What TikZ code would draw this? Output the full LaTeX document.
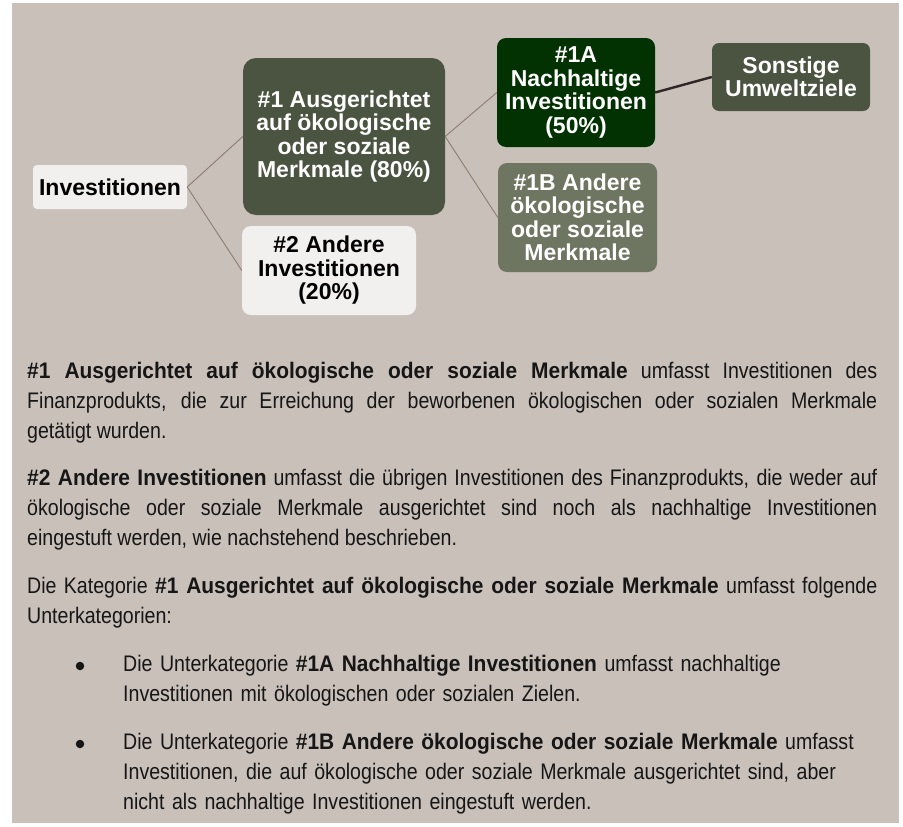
\documentclass[tikz,border=0pt]{standalone}
\usepackage{fontspec}
\setmainfont{Liberation Sans}[FakeStretch=0.87]
\newfontfamily\boldpara{Liberation Sans}[FakeStretch=0.93]
\newfontfamily\boxfont{Liberation Sans}
\newcommand\bpara[1]{{\boldpara\bfseries #1}}
\definecolor{bgtaupe}{HTML}{C9C0BA}
\definecolor{boxlight}{HTML}{F2F0EE}
\definecolor{olive}{HTML}{4A5440}
\definecolor{deepgreen}{HTML}{023202}
\definecolor{sage}{HTML}{6E7560}
\definecolor{linkgrey}{HTML}{8C7D73}
\definecolor{linkdark}{HTML}{2F2626}
\definecolor{ink}{HTML}{161616}
\tikzset{
  boxnode/.style={rounded corners=9pt, inner sep=0pt, align=center,
    font=\boxfont\bfseries\fontsize{23}{23.5}\selectfont, text=white},
  conn/.style={draw=linkgrey, line width=0.9pt},
  connthick/.style={draw=linkdark, line width=2.4pt},
  para/.style={anchor=base west, inner sep=0pt, text width=850pt, align=justify,
    font=\fontsize{22.5}{30}\selectfont, text=ink},
  bulletlist/.style={anchor=base west, inner sep=0pt, text width=760pt, align=left,
    font=\fontsize{22.5}{30}\selectfont, text=ink},
  bulletdot/.style={circle, fill=ink, minimum size=8.5pt, inner sep=0pt}
}
\begin{document}
\begin{tikzpicture}[x=1pt,y=-1pt]
\useasboundingbox (0,0) rectangle (903,827);
\fill[bgtaupe] (12,3) rectangle (899,823);

\node[boxnode, fill=boxlight, text=black, rounded corners=4pt, minimum width=154pt, minimum height=44pt] (inv) at (110,187) {Investitionen};
\node[boxnode, fill=olive, rounded corners=13pt, minimum width=202pt, minimum height=157pt] (n1) at (344,136.5) {\#1 Ausgerichtet\\auf ökologische\\oder soziale\\Merkmale (80\%)};
\node[boxnode, fill=boxlight, text=black, minimum width=174pt, minimum height=89pt] (n2) at (329,270.5) {\#2 Andere\\Investitionen\\(20\%)};
\node[boxnode, fill=deepgreen, minimum width=158pt, minimum height=109pt] (n1a) at (576,92.5) {\#1A\\Nachhaltige\\Investitionen\\(50\%)};
\node[boxnode, fill=sage, minimum width=159pt, minimum height=109pt] (n1b) at (577.5,217.5) {\#1B Andere\\ökologische\\oder soziale\\Merkmale};
\node[boxnode, fill=olive, rounded corners=7pt, minimum width=158pt, minimum height=68pt] (sonst) at (791,77) {Sonstige\\Umweltziele};

\draw[conn] (inv.east) -- (n1.west);
\draw[conn] (inv.east) -- (n2.west);
\draw[conn] (n1.east) -- (n1a.west);
\draw[conn] (n1.east) -- (n1b.west);
\draw[connthick] (n1a.east) -- (sonst.west);

\node[para] (p1) at (27,378) {\bpara{\#1 Ausgerichtet auf ökologische oder soziale Merkmale} umfasst Investitionen des\linebreak Finanzprodukts, die zur Erreichung der beworbenen ökologischen oder sozialen Merkmale\linebreak getätigt wurden.};
\node[para] (p2) at (27,485) {\bpara{\#2 Andere Investitionen} umfasst die übrigen Investitionen des Finanzprodukts, die weder auf\linebreak ökologische oder soziale Merkmale ausgerichtet sind noch als nachhaltige Investitionen\linebreak eingestuft werden, wie nachstehend beschrieben.};
\node[para] (p3) at (27,593) {Die Kategorie \bpara{\#1 Ausgerichtet auf ökologische oder soziale Merkmale} umfasst folgende\linebreak Unterkategorien:};

\node[bulletdot] (d1) at (80,666) {};
\node[bulletlist] (b1) at (123,671) {Die Unterkategorie \bpara{\#1A Nachhaltige Investitionen} umfasst nachhaltige\\Investitionen mit ökologischen oder sozialen Zielen.};
\node[bulletdot] (d2) at (80,744) {};
\node[bulletlist] (b2) at (123,749) {Die Unterkategorie \bpara{\#1B Andere ökologische oder soziale Merkmale} umfasst\\Investitionen, die auf ökologische oder soziale Merkmale ausgerichtet sind, aber\\nicht als nachhaltige Investitionen eingestuft werden.};
\end{tikzpicture}
\end{document}
